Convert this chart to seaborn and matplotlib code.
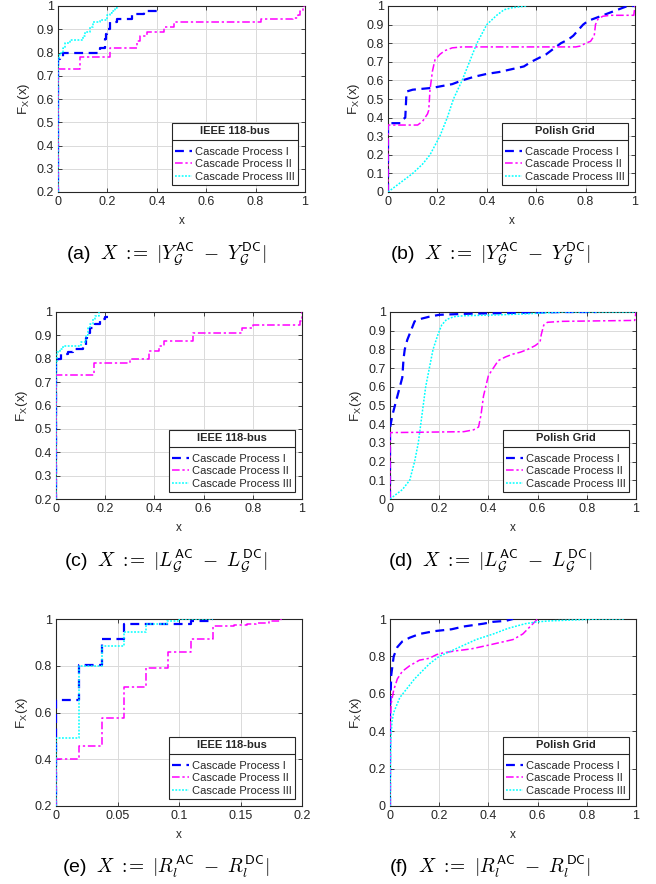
import numpy as np
import pandas as pd
import matplotlib
matplotlib.use("Agg")
import matplotlib.pyplot as plt
import seaborn as sns
from matplotlib.lines import Line2D
from matplotlib.ticker import FuncFormatter

# ---------------- data (breakpoints of empirical CDFs) ----------------
series_names = ["Cascade Process I", "Cascade Process II", "Cascade Process III"]
legend_titles = ["IEEE 118-bus", "Polish Grid", "IEEE 118-bus", "Polish Grid", "IEEE 118-bus", "Polish Grid"]
captions = [r"(a)  $X\ :\!\!=\ |Y_{\mathcal{G}}^{\mathsf{AC}}\ -\ Y_{\mathcal{G}}^{\mathsf{DC}}|$",
            r"(b)  $X\ :\!\!=\ |Y_{\mathcal{G}}^{\mathsf{AC}}\ -\ Y_{\mathcal{G}}^{\mathsf{DC}}|$",
            r"(c)  $X\ :\!\!=\ |L_{\mathcal{G}}^{\mathsf{AC}}\ -\ L_{\mathcal{G}}^{\mathsf{DC}}|$",
            r"(d)  $X\ :\!\!=\ |L_{\mathcal{G}}^{\mathsf{AC}}\ -\ L_{\mathcal{G}}^{\mathsf{DC}}|$",
            r"(e)  $X\ :\!\!=\ |R_{l}^{\mathsf{AC}}\ -\ R_{l}^{\mathsf{DC}}|$",
            r"(f)  $X\ :\!\!=\ |R_{l}^{\mathsf{AC}}\ -\ R_{l}^{\mathsf{DC}}|$"]

# (a) IEEE 118-bus, Y
a1_x = [0, 0, 0.01, 0.02, 0.17, 0.19, 0.195, 0.20, 0.21, 0.24, 0.30, 0.35, 0.40, 0.40]
a1_y = [0, 0.77, 0.78, 0.80, 0.82, 0.86, 0.88, 0.90, 0.93, 0.945, 0.965, 0.98, 0.98, 1.0]
a2_x = [0, 0, 0.09, 0.21, 0.32, 0.33, 0.36, 0.43, 0.47, 0.82, 0.95, 0.97, 0.98, 0.99, 1.0]
a2_y = [0, 0.73, 0.78, 0.82, 0.85, 0.87, 0.89, 0.91, 0.93, 0.945, 0.95, 0.96, 0.98, 1.0, 1.0]
a3_x = [0, 0, 0.005, 0.01, 0.02, 0.03, 0.05, 0.10, 0.11, 0.13, 0.14, 0.17, 0.20, 0.21, 0.22, 0.23, 0.24, 0.24]
a3_y = [0, 0.77, 0.79, 0.80, 0.82, 0.84, 0.855, 0.87, 0.89, 0.91, 0.93, 0.94, 0.96, 0.97, 0.98, 0.99, 1.0, 1.0]

# (b) Polish grid, Y
b1_x = [0, 0.0, 0.05, 0.06, 0.07, 0.075, 0.10, 0.18, 0.22, 0.26, 0.30, 0.35, 0.40, 0.45, 0.50, 0.55, 0.58,
        0.61, 0.64, 0.67, 0.70, 0.73, 0.75, 0.77, 0.79, 0.81, 0.84, 0.87, 0.90, 0.93, 0.95, 0.97, 1.0]
b1_y = [0, 0.37, 0.37, 0.39, 0.40, 0.54, 0.55, 0.56, 0.57, 0.58, 0.60, 0.62, 0.635, 0.645, 0.66, 0.675, 0.70,
        0.72, 0.74, 0.77, 0.80, 0.82, 0.84, 0.87, 0.90, 0.92, 0.935, 0.95, 0.965, 0.98, 0.99, 1.0, 1.0]
b2_x = [0, 0, 0.12, 0.14, 0.16, 0.165, 0.17, 0.18, 0.19, 0.21, 0.23, 0.26, 0.30, 0.76, 0.78, 0.80, 0.82,
        0.835, 0.84, 0.85, 0.87, 0.90, 0.995, 1.0]
b2_y = [0, 0.36, 0.36, 0.38, 0.42, 0.44, 0.55, 0.65, 0.71, 0.74, 0.76, 0.775, 0.78, 0.78, 0.785, 0.80, 0.81,
        0.84, 0.90, 0.93, 0.945, 0.95, 0.95, 1.0]
b3_x = [0, 0.03, 0.07, 0.10, 0.14, 0.17, 0.19, 0.21, 0.24, 0.265, 0.30, 0.33, 0.36, 0.40, 0.44, 0.47, 0.50, 0.56]
b3_y = [0, 0.03, 0.07, 0.10, 0.15, 0.20, 0.25, 0.30, 0.40, 0.50, 0.60, 0.70, 0.80, 0.90, 0.95, 0.98, 0.99, 1.0]

# (c) IEEE 118-bus, L
c1_x = [0, 0, 0.01, 0.02, 0.05, 0.07, 0.11, 0.12, 0.125, 0.14, 0.16, 0.18, 0.20, 0.21]
c1_y = [0, 0.78, 0.80, 0.82, 0.83, 0.84, 0.86, 0.89, 0.91, 0.93, 0.95, 0.97, 0.98, 0.98]
c2_x = [0, 0, 0.155, 0.30, 0.38, 0.42, 0.44, 0.555, 0.755, 0.80, 0.99, 1.0]
c2_y = [0, 0.73, 0.78, 0.80, 0.835, 0.855, 0.875, 0.91, 0.93, 0.945, 0.96, 1.0]
c3_x = [0, 0, 0.005, 0.015, 0.03, 0.10, 0.12, 0.13, 0.14, 0.15, 0.16, 0.175, 0.175]
c3_y = [0, 0.78, 0.83, 0.84, 0.855, 0.87, 0.90, 0.93, 0.95, 0.97, 0.985, 1.0, 1.0]

# (d) Polish grid, L
d1_x = [0, 0, 0.01, 0.02, 0.03, 0.04, 0.05, 0.055, 0.06, 0.07, 0.085, 0.10, 0.13, 0.16, 0.20, 0.30, 0.50, 0.70, 0.84]
d1_y = [0, 0.38, 0.45, 0.50, 0.55, 0.60, 0.65, 0.75, 0.80, 0.85, 0.90, 0.95, 0.965, 0.975, 0.985, 0.99, 0.995, 1.0, 1.0]
d2_x = [0, 0, 0.30, 0.34, 0.36, 0.37, 0.38, 0.40, 0.42, 0.44, 0.47, 0.50, 0.53, 0.56, 0.59, 0.61, 0.615,
        0.625, 0.64, 0.70, 0.995, 1.0]
d2_y = [0, 0.355, 0.36, 0.37, 0.385, 0.45, 0.55, 0.66, 0.70, 0.74, 0.76, 0.775, 0.785, 0.80, 0.82, 0.84, 0.88,
        0.93, 0.945, 0.95, 0.955, 1.0]
d3_x = [0, 0.02, 0.05, 0.08, 0.10, 0.115, 0.125, 0.135, 0.145, 0.16, 0.175, 0.195, 0.21, 0.23, 0.26, 0.30,
        0.45, 0.55, 0.70, 1.0]
d3_y = [0, 0.02, 0.05, 0.10, 0.20, 0.30, 0.40, 0.50, 0.60, 0.70, 0.80, 0.88, 0.93, 0.96, 0.975, 0.98,
        0.985, 0.99, 1.0, 1.0]

# (e) IEEE 118-bus, R
e1_x = [0, 0, 0.0185, 0.037, 0.055, 0.11, 0.127, 0.128]
e1_y = [0, 0.655, 0.805, 0.915, 0.98, 0.99, 1.0, 1.0]
e2_x = [0, 0, 0.0185, 0.037, 0.055, 0.073, 0.091, 0.11, 0.128, 0.145, 0.155, 0.163, 0.173, 0.183, 0.183]
e2_y = [0, 0.40, 0.455, 0.575, 0.71, 0.79, 0.86, 0.915, 0.97, 0.975, 0.98, 0.985, 0.99, 1.0, 1.0]
e3_x = [0, 0, 0.0185, 0.037, 0.055, 0.073, 0.09, 0.10, 0.128]
e3_y = [0, 0.49, 0.80, 0.885, 0.945, 0.98, 0.99, 1.0, 1.0]

# (f) Polish grid, R
f1_x = [0, 0.0, 0.005, 0.015, 0.03, 0.05, 0.08, 0.12, 0.18, 0.25, 0.30, 0.38, 0.42, 0.47, 0.50]
f1_y = [0, 0.50, 0.70, 0.80, 0.85, 0.88, 0.90, 0.92, 0.935, 0.945, 0.96, 0.975, 0.985, 0.99, 1.0]
f2_x = [0, 0.002, 0.005, 0.015, 0.03, 0.05, 0.08, 0.12, 0.16, 0.19, 0.22, 0.27, 0.33, 0.40, 0.45, 0.50,
        0.54, 0.57, 0.60]
f2_y = [0, 0.45, 0.55, 0.62, 0.68, 0.72, 0.75, 0.78, 0.79, 0.81, 0.82, 0.83, 0.84, 0.86, 0.875, 0.89,
        0.92, 0.96, 1.0]
f3_x = [0, 0.003, 0.008, 0.015, 0.04, 0.07, 0.10, 0.13, 0.16, 0.20, 0.25, 0.30, 0.35, 0.42, 0.48, 0.55,
        0.60, 0.65, 0.75, 0.85, 0.95]
f3_y = [0, 0.35, 0.45, 0.50, 0.58, 0.63, 0.68, 0.72, 0.76, 0.80, 0.83, 0.86, 0.89, 0.92, 0.95, 0.975,
        0.985, 0.99, 0.995, 1.0, 1.0]

panels = [
    dict(curves=[(a1_x, a1_y), (a2_x, a2_y), (a3_x, a3_y)], step=True, xlim=(0, 1), ylim=(0.2, 1),
         xticks=np.arange(0, 1.01, 0.2), yticks=np.arange(0.2, 1.001, 0.1)),
    dict(curves=[(b1_x, b1_y), (b2_x, b2_y), (b3_x, b3_y)], step=False, xlim=(0, 1), ylim=(0, 1),
         xticks=np.arange(0, 1.01, 0.2), yticks=np.arange(0, 1.001, 0.1)),
    dict(curves=[(c1_x, c1_y), (c2_x, c2_y), (c3_x, c3_y)], step=True, xlim=(0, 1), ylim=(0.2, 1),
         xticks=np.arange(0, 1.01, 0.2), yticks=np.arange(0.2, 1.001, 0.1)),
    dict(curves=[(d1_x, d1_y), (d2_x, d2_y), (d3_x, d3_y)], step=False, xlim=(0, 1), ylim=(0, 1),
         xticks=np.arange(0, 1.01, 0.2), yticks=np.arange(0, 1.001, 0.1)),
    dict(curves=[(e1_x, e1_y), (e2_x, e2_y), (e3_x, e3_y)], step=True, xlim=(0, 0.2), ylim=(0.2, 1),
         xticks=np.arange(0, 0.201, 0.05), yticks=np.arange(0.2, 1.001, 0.2)),
    dict(curves=[(f1_x, f1_y), (f2_x, f2_y), (f3_x, f3_y)], step=False, xlim=(0, 1), ylim=(0, 1),
         xticks=np.arange(0, 1.01, 0.2), yticks=np.arange(0, 1.001, 0.2)),
]

# ---------------- style ----------------
sns.set_style("white")
plt.rcParams["font.family"] = ["Liberation Sans", "DejaVu Sans"]
plt.rcParams["mathtext.fontset"] = "cm"

colors = ["#0000FF", "#FF00FF", "#00FFFF"]
dashes = [(4, 2.5), (5, 1.8, 1.5, 1.8), (1.2, 1.0)]
widths = [1.6, 1.1, 1.1]

W, H = 656, 884
fig = plt.figure(figsize=(W / 100, H / 100), dpi=100)

# axes boxes in pixels: left, right, top, bottom
boxes = [(58, 305, 6, 192), (388, 635, 6, 192),
         (56, 302, 312, 499), (390, 636, 312, 499),
         (56, 302, 619, 806), (390, 636, 619, 806)]
cap_y = [253, 253, 560, 560, 867, 867]
cap_x = [166, 490, 166, 490, 166, 490]

fmt = FuncFormatter(lambda v, p: ("%g" % round(v, 4)))
dark = "#262626"

legends = []
for i, (pan, box) in enumerate(zip(panels, boxes)):
    l, r, t, b = box
    ax = fig.add_axes([l / W, 1 - b / H, (r - l) / W, (b - t) / H])
    for k, (xs, ys) in enumerate(pan["curves"]):
        df = pd.DataFrame({"x": xs, "y": ys})
        sns.lineplot(data=df, x="x", y="y", ax=ax, sort=False, estimator=None,
                     color=colors[k], linewidth=widths[k],
                     drawstyle="steps-post" if pan["step"] else "default")
        ln = ax.lines[-1]
        ln.set_dashes(dashes[k])
        ln.set_zorder(3)
    ax.set_xlim(*pan["xlim"])
    ax.set_ylim(*pan["ylim"])
    ax.set_xticks(pan["xticks"])
    ax.set_yticks(pan["yticks"])
    ax.xaxis.set_major_formatter(fmt)
    ax.yaxis.set_major_formatter(fmt)
    ax.grid(True, color="#DADADA", linewidth=0.7)
    ax.set_axisbelow(True)
    for sp in ax.spines.values():
        sp.set_color(dark)
        sp.set_linewidth(0.8)
        sp.set_visible(True)
        sp.set_zorder(2.5)
    ax.tick_params(axis="both", direction="in", length=3, width=0.6, color=dark,
                   labelsize=9, labelcolor=dark, pad=3, top=True, right=True,
                   bottom=True, left=True, labeltop=False, labelright=False)
    ax.set_xlabel("x", fontsize=8.5, color=dark, labelpad=5)
    ax.set_ylabel(r"F$_{\mathsf{X}}$(x)", fontsize=9.5, color=dark, labelpad=3)

    handles = [Line2D([], [], color=colors[k], linewidth=widths[k], dashes=dashes[k]) for k in range(3)]
    leg = ax.legend(handles, series_names, title=legend_titles[i], loc="lower right",
                    bbox_to_anchor=(0.972, 0.038), fontsize=8,
                    title_fontproperties={"weight": "bold", "size": 8},
                    frameon=True, fancybox=False, edgecolor=dark, framealpha=1,
                    handlelength=1.5, handletextpad=0.3, borderpad=0.3, labelspacing=0.2,
                    borderaxespad=0.0)
    leg._legend_box.sep = 8
    leg.get_frame().set_linewidth(0.8)
    leg.set_zorder(5)
    for txt in leg.get_texts():
        txt.set_color(dark)
    legends.append(leg)

    fig.text(cap_x[i] / W, 1 - cap_y[i] / H, captions[i], ha="center", va="center",
             fontsize=14, color="black")

# separator line under each legend title
fig.canvas.draw()
renderer = fig.canvas.get_renderer()
for leg in legends:
    fb = leg.get_frame().get_window_extent(renderer)
    tb = leg.get_title().get_window_extent(renderer)
    ysep = tb.y0 - 3.5
    fig.add_artist(Line2D([fb.x0 / W, fb.x1 / W], [ysep / H, ysep / H], transform=fig.transFigure,
                          color=dark, linewidth=0.8, zorder=6))

fig.savefig("out.png", dpi=100)
